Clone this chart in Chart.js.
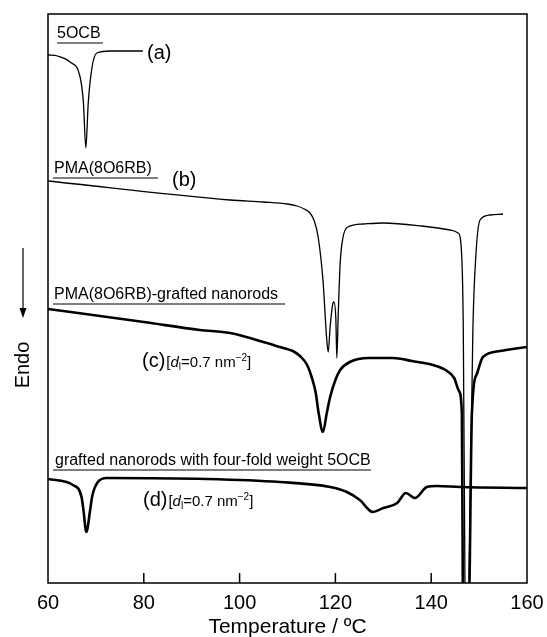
<!DOCTYPE html>
<html>
<head>
<meta charset="utf-8">
<script src="https://cdn.jsdelivr.net/npm/chart.js@4.4.1/dist/chart.umd.min.js"></script>
<style>
  body { margin: 0; background: #fff; }
</style>
</head>
<body>
<canvas id="dsc" width="547" height="637"></canvas>
<script>
// DSC traces: temperature (ºC) and heat flow (a.u., endo down)
const tempA = [60, 62, 64.6, 66.7, 67.4, 67.9, 68.4, 69.2, 70.2, 73, 79.8];
const flowA = [528, 527, 521, 506, 480, 435, 480, 516, 530, 532, 532];

const tempB = [60, 98, 105, 110, 112, 113.5, 114.7, 115.6, 116.4, 117.4, 118.2, 118.5, 118.9, 119.5, 119.7,
  120.1, 120.3, 120.6, 121, 121.6, 122.6, 125.8, 130, 138, 143.9, 145.6, 146.1, 146.5, 146.7, 147.05,
  147.5, 147.9, 148.7, 149.4, 150.2, 152.3, 155];
const flowB = [402, 383, 381, 379, 377, 374, 370, 362, 346, 303, 243, 231, 256, 280, 281,
  263, 225, 270, 320, 346, 356, 359, 360, 357, 353, 350, 344, 310, 253, 0,
  -150, 0, 253, 333, 363, 368, 369];

const tempC = [60, 80, 91.7, 98, 105.7, 108.4, 111.1, 112.6, 114.1, 115.1, 115.9, 116.5, 117.4, 118.2, 118.9,
  120, 121, 123, 127, 132, 136, 140.4, 143, 144.8, 145.8, 146.4, 146.6, 147.3, 148, 148.5,
  149.6, 150.8, 154.4, 160];
const flowC = [274, 261, 253, 250, 240, 236, 232, 227, 218, 205, 190, 170, 151, 170, 186,
  203, 213, 221, 225, 225, 222, 218, 213, 205, 192, 170, 0, -200, 0, 170,
  210, 226, 232, 236];

const tempD = [60, 65.2, 67, 67.4, 68, 68.8, 69.2, 70.4, 72.3, 93.2, 108.4, 118.9, 122.4, 125.1, 127.8,
  130, 132.9, 134.7, 136.6, 139.1, 141.2, 146, 160];
const flowD = [104, 98, 86, 73, 51, 73, 86, 101, 105, 104, 101, 96, 91, 83, 71,
  75, 80, 90, 85, 96, 97, 96, 95];

const xTicks = [60, 80, 100, 120, 140, 160];
const innerTicks = [80, 100, 120, 140];

const sampleNames = ['5OCB', 'PMA(8O6RB)', 'PMA(8O6RB)-grafted nanorods', 'grafted nanorods with four-fold weight 5OCB'];
const curveTags = ['(a)', '(b)', '(c)', '(d)'];

// where the labels sit, in data coordinates
const nameSpots = [
  { t: 61.88, v: 545, from: 61.88, to: 71.48 },
  { t: 61.25, v: 410, from: 61.04, to: 82.96 },
  { t: 61.25, v: 284, from: 61.04, to: 109.48 },
  { t: 61.46, v: 118, from: 61.04, to: 127.43 }
];
const tagSpots = [
  { t: 80.67, v: 524, density: false },
  { t: 85.89, v: 397, density: false },
  { t: 79.62, v: 216, density: true },
  { t: 79.83, v: 77, density: true }
];

const FONT = '"Liberation Sans", Arial, Helvetica, sans-serif';

function pairs(xs, ys) {
  return xs.map((x, i) => ({ x: x, y: ys[i] }));
}

function drawDensity(ctx, x, y) {
  // [d_l=0.7 nm^-2]
  const parts = [
    { t: '[', size: 15, dy: 0 },
    { t: 'd', size: 15, dy: 0, italic: true },
    { t: 'l', size: 10, dy: 3 },
    { t: '=0.7 nm', size: 15, dy: 0 },
    { t: '\u22122', size: 10, dy: -6 },
    { t: ']', size: 15, dy: 0 }
  ];
  parts.forEach(p => {
    ctx.font = (p.italic ? 'italic ' : '') + p.size + 'px ' + FONT;
    ctx.fillText(p.t, x, y + p.dy);
    x += ctx.measureText(p.t).width;
  });
}

const decorations = {
  id: 'decorations',
  afterDatasetsDraw(chart) {
    const { ctx, chartArea: area, scales: { x, y } } = chart;
    ctx.save();
    ctx.strokeStyle = '#000';
    ctx.fillStyle = '#000';

    // frame
    ctx.lineWidth = 1.5;
    ctx.strokeRect(area.left, area.top, area.right - area.left, area.bottom - area.top);

    // tick marks pointing inside
    innerTicks.forEach(v => {
      const px = x.getPixelForValue(v);
      ctx.beginPath();
      ctx.moveTo(px, area.bottom);
      ctx.lineTo(px, area.bottom - 10);
      ctx.stroke();
    });

    // underlined sample names
    ctx.textBaseline = 'alphabetic';
    ctx.lineWidth = 1.2;
    sampleNames.forEach((name, i) => {
      const s = nameSpots[i];
      ctx.font = '16px ' + FONT;
      ctx.fillText(name, x.getPixelForValue(s.t), y.getPixelForValue(s.v));
      const uy = y.getPixelForValue(s.v) + 5;
      ctx.beginPath();
      ctx.moveTo(x.getPixelForValue(s.from), uy);
      ctx.lineTo(x.getPixelForValue(s.to), uy);
      ctx.stroke();
    });

    // curve tags
    curveTags.forEach((tag, i) => {
      const s = tagSpots[i];
      const px = x.getPixelForValue(s.t);
      const py = y.getPixelForValue(s.v);
      ctx.font = '20px ' + FONT;
      ctx.fillText(tag, px, py);
      if (s.density) {
        drawDensity(ctx, px + ctx.measureText(tag).width + 1, py);
      }
    });

    // Endo arrow and label
    const ax = area.left - 25;
    const y0 = y.getPixelForValue(335);
    const y1 = y.getPixelForValue(265);
    ctx.lineWidth = 1.2;
    ctx.beginPath();
    ctx.moveTo(ax, y0);
    ctx.lineTo(ax, y1 - 8);
    ctx.stroke();
    ctx.beginPath();
    ctx.moveTo(ax - 3.5, y1 - 10);
    ctx.lineTo(ax + 3.5, y1 - 10);
    ctx.lineTo(ax, y1);
    ctx.closePath();
    ctx.fill();

    ctx.translate(ax, y.getPixelForValue(218));
    ctx.rotate(-Math.PI / 2);
    ctx.font = '20px ' + FONT;
    ctx.textAlign = 'center';
    ctx.textBaseline = 'middle';
    ctx.fillText('Endo', 0, 0);
    ctx.restore();
  }
};

new Chart(document.getElementById('dsc'), {
  type: 'line',
  data: {
    datasets: [
      { data: pairs(tempA, flowA), borderWidth: 1.3 },
      { data: pairs(tempB, flowB), borderWidth: 1.3 },
      { data: pairs(tempC, flowC), borderWidth: 2.6 },
      { data: pairs(tempD, flowD), borderWidth: 2.6 }
    ]
  },
  options: {
    responsive: false,
    animation: false,
    layout: { padding: { left: 48, right: 20, top: 14, bottom: 0 } },
    elements: {
      point: { radius: 0 },
      line: { borderColor: '#000', fill: false, cubicInterpolationMode: 'monotone' }
    },
    datasets: { line: { clip: 0 } },
    plugins: {
      legend: { display: false },
      tooltip: { enabled: false }
    },
    scales: {
      x: {
        type: 'linear',
        min: 60,
        max: 160,
        afterBuildTicks: scale => { scale.ticks = xTicks.map(v => ({ value: v })); },
        // the "160" label may hang over the right edge like in the figure
        afterFit: scale => { scale.paddingLeft = 0; scale.paddingRight = 0; },
        grid: { display: false, drawTicks: false, tickLength: 0 },
        border: { display: false },
        ticks: { color: '#000', padding: 8, font: { family: FONT, size: 20 } },
        title: {
          display: true,
          text: 'Temperature / ºC',
          color: '#000',
          padding: { top: 0, bottom: 5 },
          font: { family: FONT, size: 21, lineHeight: 9 / 21 }
        }
      },
      y: { display: false, min: 0, max: 569 }
    }
  },
  plugins: [decorations]
});
</script>
</body>
</html>
